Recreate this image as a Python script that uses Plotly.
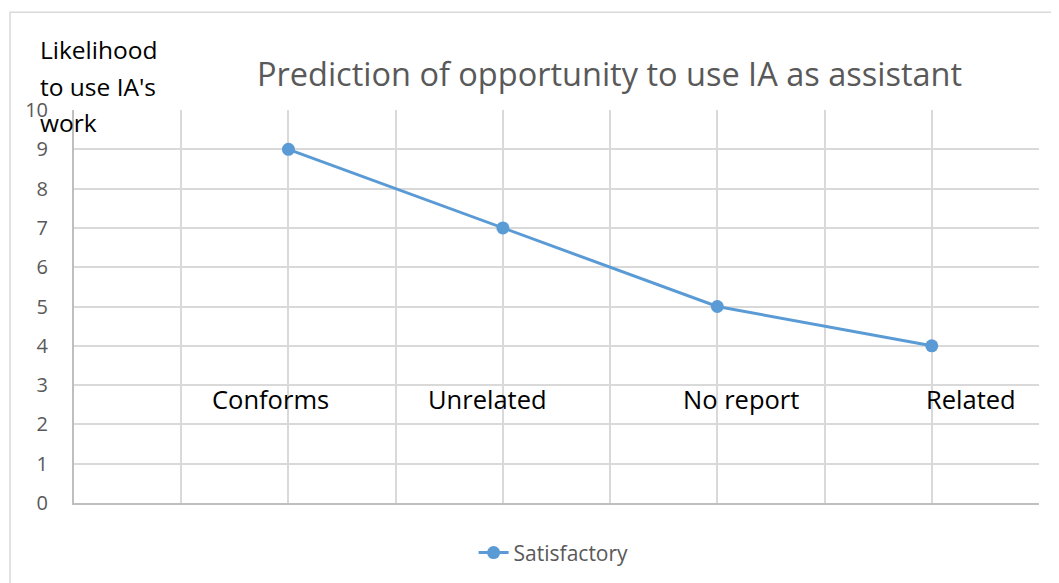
import plotly.graph_objects as go

categories = ["Conforms", "Unrelated", "No report", "Related"]
values = [9, 7, 5, 4]
series_name = "Satisfactory"
y_ticks = list(range(0, 11))
y_title_lines = ["Likelihood", "to use IA's", "work"]

# category positions along the x axis (1..n)
x_pos = [i + 1 for i in range(len(categories))]
# horizontal anchors of the category labels (data units)
label_x = [0.914, 1.926, 3.110, 4.183]
label_y = 2.65
# vertical anchors (paper units) of the y-axis title lines
title_line_y = [1.153, 1.059, 0.967]

fig = go.Figure()
fig.add_trace(go.Scatter(
    x=x_pos, y=values, mode="lines+markers", name=series_name,
    line=dict(color="#5B9BD5", width=3),
    marker=dict(color="#5B9BD5", size=13),
))

annotations = []
for lx, cat in zip(label_x, categories):
    annotations.append(dict(x=lx, y=label_y, xref="x", yref="y", text=cat,
                            showarrow=False, font=dict(size=25.5, color="#000000",
                            family="Open Sans")))
for ly, line in zip(title_line_y, y_title_lines):
    annotations.append(dict(
        xref="paper", yref="paper", x=-0.0373, y=ly, xanchor="left", yanchor="middle",
        text=line, showarrow=False,
        font=dict(size=24.5, color="#000000", family="Open Sans"),
    ))

fig.update_layout(
    width=1059, height=583,
    paper_bgcolor="white", plot_bgcolor="white",
    margin=dict(l=66, r=28, t=102, b=88),
    title=dict(text="Prediction of opportunity to use IA as assistant",
               x=0.568, xanchor="center", y=0.885, yanchor="middle",
               font=dict(size=32.5, color="#595959", family="Open Sans")),
    xaxis=dict(range=[0, 4.5], dtick=0.5, tick0=0, showticklabels=False,
               showgrid=True, gridcolor="#D9D9D9", gridwidth=1.5,
               zeroline=False, showline=True, linecolor="#BFBFBF", linewidth=2,
               mirror=False, ticks=""),
    yaxis=dict(range=[0, 10], tickvals=y_ticks, showgrid=True,
               gridcolor="#D9D9D9", gridwidth=1.5, zeroline=False,
               showline=True, linecolor="#BFBFBF", linewidth=2, ticks="",
               tickfont=dict(size=20, color="#595959", family="Open Sans"),
               ticklabelstandoff=20),
    showlegend=True,
    legend=dict(orientation="h", x=0.497, xanchor="center", y=-0.127, yanchor="middle",
                font=dict(size=21, color="#595959", family="Open Sans")),
    annotations=annotations,
    shapes=[dict(type="rect", xref="paper", yref="paper",
                 x0=-0.0663, y0=-0.4, x1=1.2, y1=1.249,
                 line=dict(color="#D9D9D9", width=1.5))],
)
fig.write_html("out.html")
